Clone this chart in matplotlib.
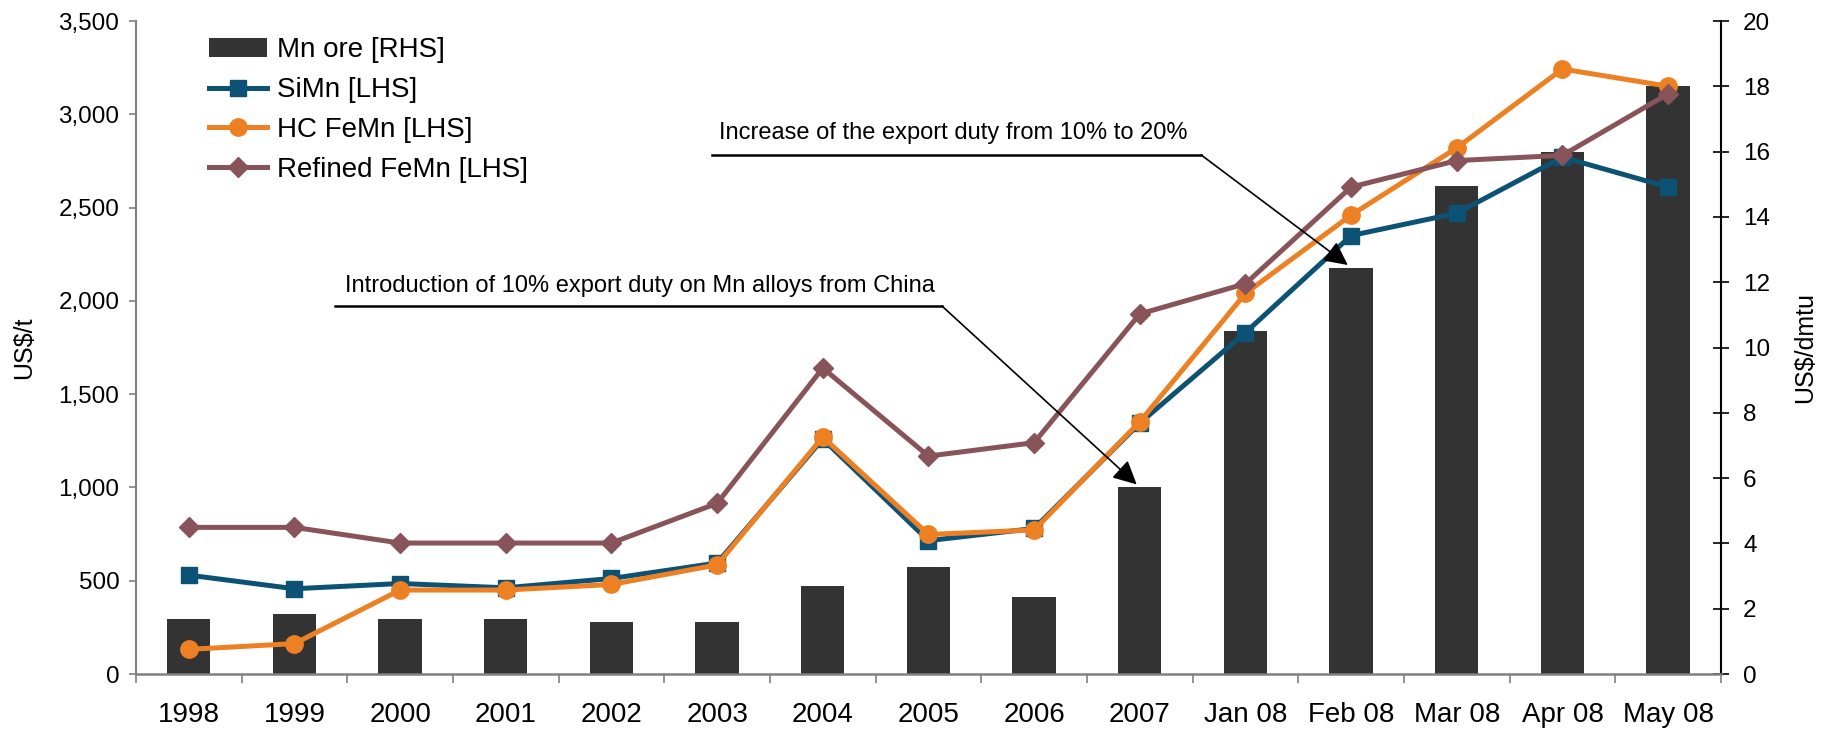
import matplotlib.pyplot as plt
from matplotlib.ticker import FuncFormatter, MultipleLocator

plt.rcParams['font.family'] = ['Liberation Sans', 'DejaVu Sans']

# Datos
periods = ['1998', '1999', '2000', '2001', '2002', '2003', '2004', '2005', '2006', '2007',
           'Jan 08', 'Feb 08', 'Mar 08', 'Apr 08', 'May 08']
mn_ore = [1.7, 1.85, 1.7, 1.7, 1.6, 1.6, 2.7, 3.27, 2.35, 5.72, 10.5, 12.45, 14.95, 16.0, 18.0]
simn = [530, 457, 485, 462, 512, 595, 1260, 715, 780, 1345, 1830, 2350, 2470, 2770, 2610]
hc_femn = [132, 163, 450, 450, 480, 585, 1270, 748, 772, 1352, 2040, 2460, 2820, 3243, 3150]
refined_femn = [786, 786, 702, 702, 702, 915, 1640, 1168, 1240, 1930, 2092, 2610, 2752, 2780, 3110]

c_bar = '#333333'
c_simn = '#0B5274'
c_hc = '#EE8024'
c_ref = '#88545A'
gray = '#808080'

fig = plt.figure(figsize=(18.32, 7.30), dpi=100)
ax = fig.add_axes([0.0742, 0.0767, 0.8652, 0.8945])
ax2 = ax.twinx()

x = list(range(len(periods)))

# barras en el eje derecho, lineas en el izquierdo
bars = ax2.bar(x, mn_ore, width=0.41, color=c_bar, label='Mn ore [RHS]')
l1, = ax.plot(x, simn, color=c_simn, lw=3.6, marker='s', ms=11.5, label='SiMn [LHS]')
l2, = ax.plot(x, hc_femn, color=c_hc, lw=3.6, marker='o', ms=12.5, label='HC FeMn [LHS]')
l3, = ax.plot(x, refined_femn, color=c_ref, lw=3.6, marker='D', ms=10.5, label='Refined FeMn [LHS]')

ax.set_zorder(ax2.get_zorder() + 1)
ax.patch.set_visible(False)

ax.set_xlim(-0.5, len(periods) - 0.5)
ax.set_ylim(0, 3500)
ax2.set_ylim(0, 20)
ax.yaxis.set_major_locator(MultipleLocator(500))
ax.yaxis.set_major_formatter(FuncFormatter(lambda v, p: f'{v:,.0f}'))
ax2.yaxis.set_major_locator(MultipleLocator(2))

ax.set_xticks(x)
ax.set_xticklabels(periods)
ax.set_xticks([i - 0.5 for i in range(len(periods) + 1)], minor=True)
ax.tick_params(axis='x', which='major', length=0, labelsize=20, pad=20)
ax.tick_params(axis='x', which='minor', length=6.5, width=1.2, color=gray, direction='out')
ax.tick_params(axis='y', length=5, width=1.2, color=gray, direction='out', labelsize=17.5, pad=7)
ax2.tick_params(axis='y', length=12, width=1.2, color='black', direction='inout', labelsize=17.5, pad=10)

for s in ['top', 'right']:
    ax.spines[s].set_visible(False)
ax.spines['left'].set_color(gray)
ax.spines['bottom'].set_color(gray)
ax.spines['left'].set_linewidth(1.5)
ax.spines['bottom'].set_linewidth(1.8)
for s in ['top', 'left', 'bottom']:
    ax2.spines[s].set_visible(False)
ax2.spines['right'].set_linewidth(1.5)

ax.set_ylabel('US$/t', fontsize=18)
ax.yaxis.set_label_coords(-0.063, 0.5)
ax2.set_ylabel('US$/dmtu', fontsize=18)
ax2.yaxis.set_label_coords(1.0455, 0.5)

ax.legend(handles=[bars, l1, l2, l3], loc='upper left', bbox_to_anchor=(0.046, 0.975),
          frameon=False, fontsize=20, borderpad=0, borderaxespad=0,
          handlelength=2.1, handletextpad=0.35, labelspacing=0.5)


# anotaciones con subrayado y flecha
def note(text, tx, ty, x0, elbow, target):
    ax.text(tx, ty, text, transform=ax.transAxes, fontsize=17, va='center', ha='left')
    ax.plot([x0, elbow[0]], [elbow[1], elbow[1]], transform=ax.transAxes,
            color='black', lw=1.8, clip_on=False)
    ax.annotate('', xy=target, xycoords=ax2.transData, xytext=elbow, textcoords='axes fraction',
                arrowprops=dict(arrowstyle='-|>', color='black', lw=1.2, mutation_scale=36,
                                shrinkA=0, shrinkB=3))


note('Introduction of 10% export duty on Mn alloys from China',
     0.1319, 0.594, 0.1256, (0.5085, 0.5636), (9, mn_ore[9]))
note('Increase of the export duty from 10% to 20%',
     0.368, 0.8285, 0.3634, (0.672, 0.795), (11, mn_ore[11]))

fig.savefig('out.png', dpi=100)
